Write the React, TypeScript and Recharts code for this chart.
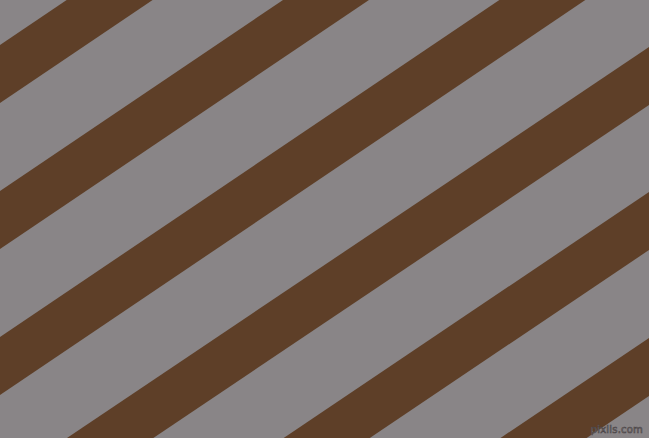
import React from "react";
import { ComposedChart, Area, XAxis, YAxis } from "recharts";

// edges of each brown band, read at the left (x=0) and right (x=649) borders
const edgeX = [0, 649];
const upperLeft = [45, 191, 337, 483, 629, 775];
const lowerLeft = [103, 249, 395, 541, 687, 833];
const upperRight = [-393, -247, -101, 47, 192, 338];
const lowerRight = [-335, -189, -43, 105, 250, 396];

const W = 649;
const H = 438;
const GRAY = "#898587";
const BROWN = "#5e3f28";

const data = edgeX.map((x, i) => {
  const row: Record<string, number | number[]> = { x };
  upperLeft.forEach((_, s) => {
    row["s" + s] =
      i === 0 ? [upperLeft[s], lowerLeft[s]] : [upperRight[s], lowerRight[s]];
  });
  return row;
});

export default function App() {
  return (
    <div
      style={{
        position: "fixed",
        left: 0,
        top: 0,
        width: W,
        height: H,
        background: GRAY,
        overflow: "hidden",
      }}
    >
      <ComposedChart width={W} height={H} data={data} margin={{ top: 0, right: 0, bottom: 0, left: 0 }}>
        <XAxis dataKey="x" type="number" domain={[0, W]} hide allowDataOverflow />
        <YAxis type="number" domain={[0, H]} reversed hide allowDataOverflow width={0} />
        {upperLeft.map((_, s) => (
          <Area
            key={s}
            type="linear"
            dataKey={"s" + s}
            fill={BROWN}
            fillOpacity={1}
            stroke="none"
            dot={false}
            activeDot={false}
            isAnimationActive={false}
          />
        ))}
      </ComposedChart>
      <div
        style={{
          position: "absolute",
          right: 6,
          bottom: 3,
          fontFamily: "DejaVu Sans, sans-serif",
          fontSize: 10,
          color: "#8f8b8d",
          WebkitTextStroke: "0.6px #4a4446",
          letterSpacing: 0.2,
        }}
      >
        pixlis.com
      </div>
    </div>
  );
}
